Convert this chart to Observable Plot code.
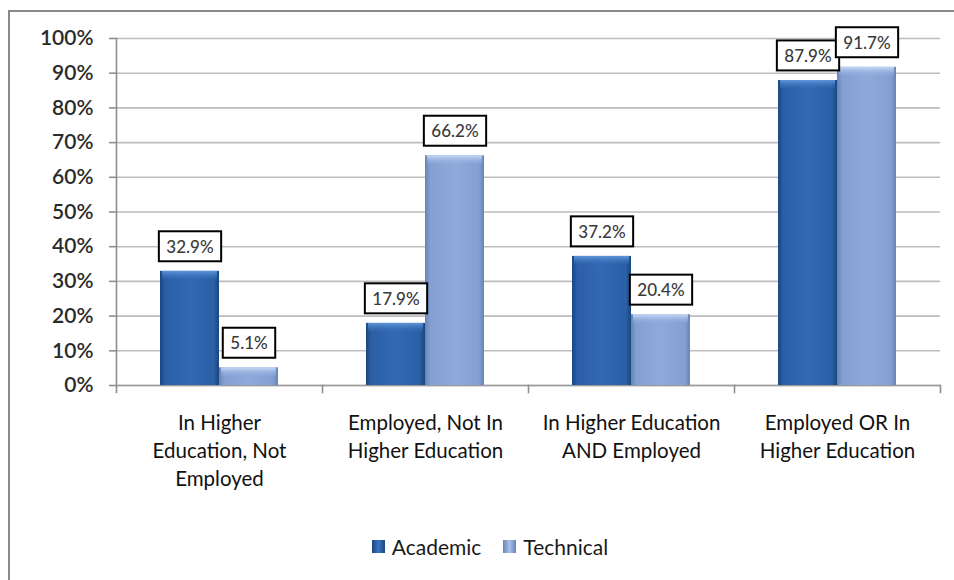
<!DOCTYPE html>
<html>
<head>
<meta charset="utf-8">
<script src="https://cdn.jsdelivr.net/npm/d3@7"></script>
<script src="https://cdn.jsdelivr.net/npm/@observablehq/plot@0.6"></script>
<style>
  html, body { margin: 0; padding: 0; background: #fff; }
  #wrap { position: relative; width: 954px; height: 580px; overflow: hidden; font-family: Lato, "Open Sans", sans-serif; }
  #border { position: absolute; left: 8px; top: 10px; width: 960px; height: 600px; border-left: 2px solid #8a8a8a; border-top: 2px solid #8a8a8a; box-sizing: border-box; }
  #chart { position: absolute; left: 0; top: 0; }
  #legend { position: absolute; left: 0; top: 534px; width: 954px; display: flex; justify-content: center; align-items: center; gap: 22px; font-size: 21px; color: #1a1a1a; padding-left: 26px; box-sizing: border-box; }
  .item { display: flex; align-items: center; gap: 7px; }
  .sw { width: 13px; height: 13px; display: inline-block; }
</style>
</head>
<body>
<div id="wrap">
  <div id="border"></div>
  <div id="chart"></div>
  <div id="legend"></div>
</div>
<script>
const categories = [
  "In Higher Education, Not Employed",
  "Employed, Not In Higher Education",
  "In Higher Education AND Employed",
  "Employed OR In Higher Education"
];
const categoryLabels = [
  "In Higher\nEducation, Not\nEmployed",
  "Employed, Not In\nHigher Education",
  "In Higher Education\nAND Employed",
  "Employed OR In\nHigher Education"
];
const series = ["Academic", "Technical"];
const academic = [32.9, 17.9, 37.2, 87.9];
const technical = [5.1, 66.2, 20.4, 91.7];
const yTicks = [0, 10, 20, 30, 40, 50, 60, 70, 80, 90, 100];

const valuesBySeries = {Academic: academic, Technical: technical};
const data = [];
categories.forEach((c, i) => {
  series.forEach(s => data.push({category: c, series: s, value: valuesBySeries[s][i]}));
});
const labelOf = new Map(categories.map((c, i) => [c, categoryLabels[i]]));

const W = 954, H = 520, mT = 38, mB = 135, mL = 115, mR = 14;
const innerH = H - mT - mB;

const plot = Plot.plot({
  width: W, height: H,
  marginTop: mT, marginBottom: mB, marginLeft: mL, marginRight: mR,
  style: {fontFamily: "Lato, 'Open Sans', sans-serif", background: "transparent", overflow: "visible"},
  fx: {domain: categories, padding: 0, label: null},
  x: {domain: series, paddingInner: 0, paddingOuter: 0.719, axis: null},
  y: {domain: [0, 100], axis: null, label: null},
  color: {type: "ordinal", domain: series, range: ["url(#gA)", "url(#gT)"]},
  marks: [
    Plot.gridY(yTicks, {stroke: "#bdbdbd", strokeOpacity: 1, strokeWidth: 1.6}),
    Plot.ruleY([0], {stroke: "#9a9a9a", strokeWidth: 1.6}),
    Plot.frame({anchor: "left", facetAnchor: "left", stroke: "#8f8f8f", strokeWidth: 1.6, insetBottom: -7}),
    Plot.frame({anchor: "right", stroke: "#8f8f8f", strokeWidth: 1.6, insetTop: innerH, insetBottom: -7}),
    Plot.axisY(yTicks, {
      anchor: "left", tickSize: 7, tickPadding: 16, stroke: "#8f8f8f", strokeWidth: 1.6, label: null,
      tickFormat: d => d + "%", fontSize: 21, fontWeight: 600, fill: "#2a2a2a"
    }),
    Plot.axisFx({
      anchor: "bottom", tickSize: 0, tickPadding: 24, fontSize: 20.5, fill: "#111",
      lineHeight: 1.38, tickFormat: d => labelOf.get(d), label: null
    }),
    Plot.barY(data, {fx: "category", x: "series", y: "value", fill: "series"}),
    Plot.barY(data, {
      fx: "category", x: "series", y1: "value", y2: "value",
      insetBottom: -9, insetLeft: 2, insetRight: 2,
      fill: d => d.series === "Academic" ? "url(#hA)" : "url(#hT)"
    }),
    Plot.text(data, {
      fx: "category", x: "series", y: "value", dy: -24,
      text: d => d.value.toFixed(1) + "%",
      fontSize: 17, fontWeight: 500, fill: "#3a3a3a"
    })
  ]
});

document.getElementById("chart").appendChild(plot);

// gradients
const svgNS = "http://www.w3.org/2000/svg";
const defs = document.createElementNS(svgNS, "defs");
defs.innerHTML = `
  <linearGradient id="gA" x1="0" x2="1" y1="0" y2="0">
    <stop offset="0" stop-color="#1b4680"/>
    <stop offset="0.09" stop-color="#2b5fa6"/>
    <stop offset="0.5" stop-color="#3169b3"/>
    <stop offset="0.91" stop-color="#2b5fa6"/>
    <stop offset="1" stop-color="#1b4680"/>
  </linearGradient>
  <linearGradient id="gT" x1="0" x2="1" y1="0" y2="0">
    <stop offset="0" stop-color="#6883b6"/>
    <stop offset="0.09" stop-color="#849fd1"/>
    <stop offset="0.5" stop-color="#8eaadb"/>
    <stop offset="0.91" stop-color="#849fd1"/>
    <stop offset="1" stop-color="#6883b6"/>
  </linearGradient>
  <linearGradient id="hA" x1="0" x2="0" y1="0" y2="1">
    <stop offset="0" stop-color="#5f97da"/>
    <stop offset="1" stop-color="#3169b3" stop-opacity="0.2"/>
  </linearGradient>
  <linearGradient id="hT" x1="0" x2="0" y1="0" y2="1">
    <stop offset="0" stop-color="#c6daf5"/>
    <stop offset="1" stop-color="#8eaadb" stop-opacity="0.2"/>
  </linearGradient>`;
plot.insertBefore(defs, plot.firstChild);

// boxes behind value labels
plot.querySelectorAll('g[aria-label="text"] text').forEach(t => {
  const b = t.getBBox();
  const r = document.createElementNS(svgNS, "rect");
  const cy = b.y + b.height / 2;
  r.setAttribute("x", b.x - 7.5);
  r.setAttribute("y", cy - 15);
  r.setAttribute("width", b.width + 15);
  r.setAttribute("height", 30);
  r.setAttribute("fill", "#fff");
  r.setAttribute("stroke", "#000");
  r.setAttribute("stroke-width", 2);
  if (t.getAttribute("transform")) r.setAttribute("transform", t.getAttribute("transform"));
  t.parentNode.insertBefore(r, t);
});

// legend
const legend = document.getElementById("legend");
const swatchCss = {
  Academic: "linear-gradient(90deg,#1b4680,#3a74c0 50%,#1b4680)",
  Technical: "linear-gradient(90deg,#6883b6,#a9c0ea 50%,#6883b6)"
};
series.forEach(s => {
  const it = document.createElement("div");
  it.className = "item";
  const sw = document.createElement("span");
  sw.className = "sw";
  sw.style.background = swatchCss[s];
  const lb = document.createElement("span");
  lb.textContent = s;
  it.appendChild(sw); it.appendChild(lb);
  legend.appendChild(it);
});
</script>
</body>
</html>
